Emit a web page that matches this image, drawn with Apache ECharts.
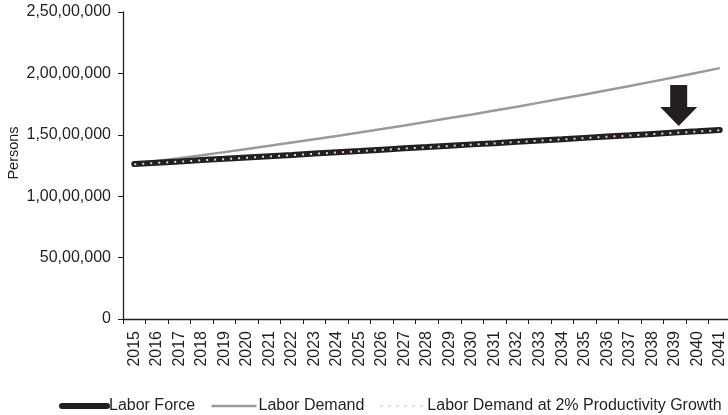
<!DOCTYPE html>
<html><head><meta charset="utf-8">
<script src="https://cdn.jsdelivr.net/npm/echarts@6/dist/echarts.min.js"></script>
<style>html,body{margin:0;padding:0;background:#fff}#c{width:728px;height:415px}</style>
</head><body><div id="c"></div>
<script>
var years = ['2015','2016','2017','2018','2019','2020','2021','2022','2023','2024','2025','2026','2027','2028','2029','2030','2031','2032','2033','2034','2035','2036','2037','2038','2039','2040','2041'];
var laborForce = [12620000,12730000,12830000,12940000,13040000,13150000,13260000,13360000,13470000,13580000,13680000,13790000,13900000,14000000,14110000,14220000,14320000,14430000,14540000,14640000,14750000,14860000,14960000,15070000,15180000,15280000,15390000];
var laborDemand = [12620000,12860000,13100000,13340000,13590000,13850000,14100000,14370000,14640000,14910000,15190000,15470000,15760000,16060000,16360000,16660000,16980000,17290000,17620000,17950000,18280000,18620000,18970000,19330000,19690000,20060000,20430000];
var laborDemand2 = [12600000,12710000,12810000,12920000,13020000,13130000,13240000,13340000,13450000,13560000,13660000,13770000,13880000,13980000,14090000,14200000,14300000,14410000,14520000,14620000,14730000,14840000,14940000,15050000,15160000,15260000,15370000];
var yTicks = [0, 5000000, 10000000, 15000000, 20000000, 25000000];

function indian(v){
  var s = String(Math.round(v));
  if (s.length <= 3) return s;
  var last3 = s.slice(-3), rest = s.slice(0,-3);
  rest = rest.replace(/\B(?=(\d{2})+(?!\d))/g, ',');
  return rest + ',' + last3;
}

var font = 'Liberation Sans, Arial, sans-serif';
var txt = '#231f20';
var chart = echarts.init(document.getElementById('c'));
chart.setOption({
  animation: false,
  textStyle: {fontFamily: font},
  grid: {left: 123, right: -3, top: 12, bottom: 96, containLabel: false, outerBoundsMode: 'none'},
  xAxis: {
    type: 'category', data: years, boundaryGap: true,
    axisLine: {lineStyle: {color: '#231f20', width: 1.3}},
    axisTick: {show: true, length: 5, lineStyle: {color: '#231f20'}},
    axisLabel: {rotate: 90, interval: 0, margin: 12, fontSize: 16, color: txt, fontFamily: font},
    splitLine: {show: false}
  },
  yAxis: {
    type: 'value', min: yTicks[0], max: yTicks[yTicks.length-1], interval: 5000000,
    name: 'Persons', nameLocation: 'middle', nameGap: 102, nameRotate: 90, nameMoveOverlap: false,
    nameTextStyle: {fontSize: 14.5, color: txt, fontFamily: font, padding: [0, 0, 0, 25]},
    axisLine: {show: true, lineStyle: {color: '#231f20', width: 1.3}},
    axisTick: {show: true, length: 5, lineStyle: {color: '#231f20'}},
    axisLabel: {margin: 12, fontSize: 16, color: txt, fontFamily: font, formatter: indian},
    splitLine: {show: false}
  },
  legend: {
    bottom: -4, left: 54, width: 700, itemWidth: 45, itemHeight: 14, itemGap: 15,
    itemStyle: {opacity: 0},
    textStyle: {fontSize: 16, color: txt, fontFamily: font, padding: [0,0,0,-3]},
    data: [
      {name: 'Labor Force', lineStyle: {width: 6, cap: 'round'}},
      {name: 'Labor Demand', lineStyle: {width: 2.5}},
      {name: 'Labor Demand at 2% Productivity Growth', lineStyle: {width: 2, color: '#cfcfcf'}}
    ]
  },
  series: [
    {name: 'Labor Demand', type: 'line', data: laborDemand, symbol: 'none', smooth: false,
     lineStyle: {color: '#9a9a9a', width: 2.5}, itemStyle: {color: '#9a9a9a'}, z: 2},
    {name: 'Labor Force', type: 'line', data: laborForce, symbol: 'none',
     lineStyle: {color: '#231f20', width: 6, cap: 'round'}, itemStyle: {color: '#231f20'}, z: 3,
     markPoint: {
       silent: true,
       data: [{coord: ['2039', laborForce[24]],
               symbol: 'path://M10,0 L27,0 L27,22 L37,22 L18.5,41 L0,22 L10,22 Z',
               symbolSize: [37, 41], symbolOffset: [4, -27],
               itemStyle: {color: '#231f20', opacity: 1}, label: {show: false}}]
     }},
    {name: 'Labor Demand at 2% Productivity Growth', type: 'line', data: laborDemand2, symbol: 'none',
     lineStyle: {color: '#d8d8d8', width: 2, type: [2, 6]}, itemStyle: {color: '#d8d8d8'}, z: 4}
  ]
});
</script></body></html>
